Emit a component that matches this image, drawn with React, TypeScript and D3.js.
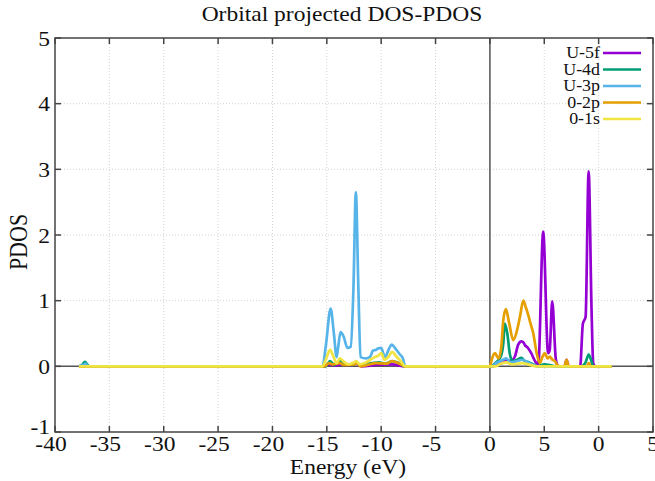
import React from "react";
import * as d3 from "d3";

const seriesNames = ["U-5f", "U-4d", "U-3p", "0-2p", "0-1s"];
const seriesColors = ["#9400d3", "#009e73", "#56b4e9", "#e69f00", "#f0e442"];

const u5f: [number, number][] = [
  [-37.8, 0], [-15.2, 0], [-14.7, 0.03], [-14.2, 0.01], [-13.7, 0.03], [-12.8, 0.02], [-12.3, 0.04], [-11.8, 0],
  [-10.5, 0.02], [-9, 0.03], [-7.8, 0], [0.2, 0], [0.6, 0.03], [1.1, 0.05], [1.5, 0.1], [1.9, 0.08], [2.3, 0.15],
  [2.6, 0.33], [2.9, 0.38], [3.1, 0.36], [3.2, 0.33], [3.5, 0.28], [3.8, 0.2], [4.15, 0.08], [4.45, 0.03],
  [4.9, 2.05], [5.35, 0.2], [5.5, 0.25], [5.73, 0.99], [6.07, 0.1], [6.3, 0], [6.85, 0], [7.05, 0.1], [7.25, 0],
  [8.3, 0], [8.55, 0.65], [8.8, 0.75], [9.08, 2.97], [9.35, 0.85], [9.5, 0.05], [9.7, 0], [11.2, 0],
];
const u4d: [number, number][] = [
  [-37.8, 0], [-37.5, 0.02], [-37.25, 0.07], [-37.0, 0.02], [-36.8, 0], [-15.1, 0], [-14.7, 0.08], [-14.3, 0.02],
  [-13.8, 0.09], [-13.4, 0.04], [-12.6, 0.02], [-12.3, 0.06], [-11.9, 0.02], [-10.8, 0.05], [-10.2, 0.06],
  [-9.6, 0.04], [-9.0, 0.08], [-8.4, 0.05], [-7.8, 0], [0.1, 0], [0.5, 0.05], [1.0, 0.15], [1.23, 0.35],
  [1.37, 0.65], [1.6, 0.5], [1.84, 0.18], [2.1, 0.08], [2.5, 0.1], [2.9, 0.13], [3.2, 0.08], [3.6, 0.06],
  [4.0, 0.03], [4.4, 0], [5.0, 0.03], [5.5, 0.02], [6, 0], [8.4, 0], [8.8, 0.06], [9.08, 0.18], [9.3, 0.1],
  [9.5, 0], [11.2, 0],
];
const u3p: [number, number][] = [
  [-37.8, 0], [-37.4, 0.02], [-37.2, 0.04], [-36.9, 0], [-15.4, 0], [-15.1, 0.3], [-14.65, 0.88], [-14.35, 0.5],
  [-14.1, 0.14], [-13.95, 0.3], [-13.74, 0.52], [-13.45, 0.45], [-13.1, 0.28], [-12.8, 0.3], [-12.55, 1.2],
  [-12.33, 2.65], [-12.1, 1.2], [-11.9, 0.14], [-11.4, 0.12], [-11.0, 0.15], [-10.76, 0.24], [-10.5, 0.25],
  [-10.3, 0.27], [-10.0, 0.28], [-9.66, 0.14], [-9.3, 0.26], [-9.05, 0.33], [-8.6, 0.25], [-8.28, 0.18],
  [-8.0, 0.12], [-7.8, 0], [0.1, 0], [0.6, 0.05], [1.2, 0.1], [1.5, 0.12], [1.9, 0.06], [2.5, 0.08], [3.0, 0.1],
  [3.5, 0.06], [4.0, 0.02], [4.4, 0], [11.2, 0],
];
const o2p: [number, number][] = [
  [-37.8, 0], [-15.2, 0], [-14.8, 0.05], [-14.5, 0.03], [-13.8, 0.05], [-13.4, 0.02], [-12.5, 0.03], [-12.2, 0.05],
  [-11.9, 0], [-10.5, 0.05], [-9.5, 0.04], [-9.0, 0.08], [-8.3, 0.04], [-7.8, 0], [0, 0], [0.2, 0.12], [0.46, 0.2],
  [0.8, 0.12], [1.05, 0.3], [1.23, 0.7], [1.47, 0.87], [1.78, 0.65], [2.14, 0.4], [2.45, 0.52], [2.76, 0.75],
  [3.07, 1.0], [3.3, 0.9], [3.53, 0.78], [3.74, 0.65], [3.99, 0.5], [4.3, 0.2], [4.6, 0.05], [4.85, 0.15],
  [5.06, 0.2], [5.3, 0.12], [5.5, 0.15], [5.75, 0.1], [5.98, 0.08], [6.2, 0.02], [6.44, 0], [6.85, 0], [7.05, 0.1],
  [7.25, 0], [8.9, 0], [9.1, 0.05], [9.3, 0], [11.2, 0],
];
const o1s: [number, number][] = [
  [-37.8, 0], [-15.4, 0], [-15.1, 0.1], [-14.7, 0.25], [-14.4, 0.15], [-14.1, 0.05], [-13.8, 0.12], [-13.5, 0.08],
  [-13.0, 0.03], [-12.5, 0.06], [-12.3, 0.08], [-12.0, 0.03], [-11.5, 0.05], [-11.0, 0.1], [-10.6, 0.14],
  [-10.3, 0.16], [-10.0, 0.2], [-9.7, 0.1], [-9.3, 0.15], [-9.0, 0.22], [-8.6, 0.15], [-8.2, 0.08], [-7.8, 0],
  [0.5, 0], [1.0, 0.04], [1.5, 0.06], [2.0, 0.03], [3.0, 0.05], [3.5, 0.03], [4.3, 0], [11.2, 0],
];
const seriesData = [u5f, u4d, u3p, o2p, o1s];

const xTicks = [-40, -35, -30, -25, -20, -15, -10, -5, 0, 5, 10, 15];
const xTickLabels = ["-40", "-35", "-30", "-25", "-20", "-15", "-10", "-5", "0", "5", "0", "5"];
const yTicks = [-1, 0, 1, 2, 3, 4, 5];

const W = 655, H = 481;
const L = 55, R = 653, T = 38, B = 432;
const FONT = "'Liberation Serif', 'Times New Roman', serif";
const SX = 1.12;

function SText(props: { x: number; y: number; size: number; anchor?: string; children: React.ReactNode }) {
  const { x, y, size, anchor = "middle", children } = props;
  return (
    <g transform={`translate(${x},${y}) scale(${SX},1)`}>
      <text x={0} y={0} textAnchor={anchor as any} fontFamily={FONT} fontSize={size} fill="#111">
        {children}
      </text>
    </g>
  );
}

export default function App() {
  const x = d3.scaleLinear().domain([-40, 15]).range([L, R]);
  const y = d3.scaleLinear().domain([-1, 5]).range([B, T]);
  const line = d3
    .line<[number, number]>()
    .x((d) => x(d[0]))
    .y((d) => y(d[1]))
    .curve(d3.curveMonotoneX);
  const axisColor = "#444";
  return (
    <svg width={W} height={H} style={{ position: "absolute", left: 0, top: 0, background: "#fff" }}>
      <rect x={0} y={0} width={W} height={H} fill="#fff" />
      {/* grid */}
      {xTicks.slice(1, -1).map((t) => (
        <line key={"gx" + t} x1={x(t)} x2={x(t)} y1={T} y2={B} stroke="#d4d4d4" strokeWidth={1} strokeDasharray="1,2" />
      ))}
      {yTicks.slice(1, -1).map((t) => (
        <line key={"gy" + t} x1={L} x2={R} y1={y(t)} y2={y(t)} stroke="#d4d4d4" strokeWidth={1} strokeDasharray="1,2" />
      ))}
      {/* zero lines */}
      <line x1={L} x2={R} y1={y(0)} y2={y(0)} stroke="#555" strokeWidth={1.5} />
      <line x1={x(0)} x2={x(0)} y1={T} y2={B} stroke="#555" strokeWidth={1.5} />
      {/* series */}
      {seriesData.map((d, i) => (
        <path key={seriesNames[i]} d={line(d) || ""} fill="none" stroke={seriesColors[i]} strokeWidth={2.7} strokeLinejoin="round" />
      ))}
      {/* border */}
      <rect x={L} y={T} width={R - L} height={B - T} fill="none" stroke={axisColor} strokeWidth={1.5} />
      {xTicks.map((t) => (
        <g key={"tx" + t}>
          <line x1={x(t)} x2={x(t)} y1={B} y2={B - 6} stroke={axisColor} strokeWidth={1.5} />
          <line x1={x(t)} x2={x(t)} y1={T} y2={T + 6} stroke={axisColor} strokeWidth={1.5} />
        </g>
      ))}
      {yTicks.map((t) => (
        <g key={"ty" + t}>
          <line x1={L} x2={L + 6} y1={y(t)} y2={y(t)} stroke={axisColor} strokeWidth={1.5} />
          <line x1={R} x2={R - 6} y1={y(t)} y2={y(t)} stroke={axisColor} strokeWidth={1.5} />
        </g>
      ))}
      {/* tick labels */}
      {xTicks.map((t, i) => (
        <SText key={"lx" + t} x={x(t) - (t < 0 ? 4 : 0)} y={451} size={21}>
          {xTickLabels[i]}
        </SText>
      ))}
      {yTicks.map((t) => (
        <SText key={"ly" + t} x={50} y={y(t) + (t < 0 ? 2 : 7.5)} size={21} anchor="end">
          {String(t)}
        </SText>
      ))}
      {/* titles */}
      <SText x={342} y={21} size={21}>Orbital projected DOS-PDOS</SText>
      <SText x={348} y={474} size={21}>Energy (eV)</SText>
      <g transform="translate(27,242) rotate(-90) scale(1,1.12)">
        <text x={0} y={0} textAnchor="middle" fontFamily={FONT} fontSize={22} fill="#111">PDOS</text>
      </g>
      {/* legend */}
      {seriesNames.map((n, i) => (
        <g key={"lg" + n}>
          <SText x={600} y={58 + i * 16.5} size={16} anchor="end">{n}</SText>
          <line x1={603} x2={641} y1={53 + i * 16.5} y2={53 + i * 16.5} stroke={seriesColors[i]} strokeWidth={2.5} />
        </g>
      ))}
    </svg>
  );
}
